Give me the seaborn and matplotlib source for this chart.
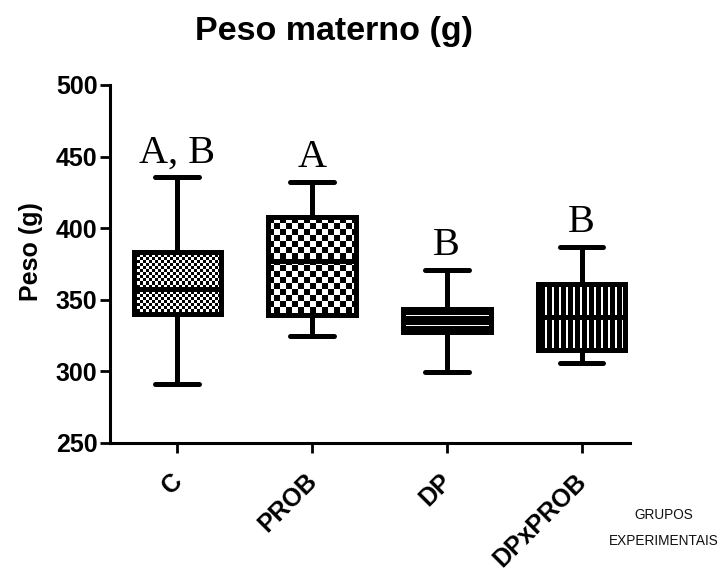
import numpy as np
import pandas as pd
import matplotlib
matplotlib.use("Agg")
import matplotlib.pyplot as plt
import matplotlib.transforms as mtransforms
import seaborn as sns

# Maternal weight per experimental group (five-number summaries, g)
groups = ["C", "PROB", "DP", "DPxPROB"]
peso_min = [291.0, 325.0, 299.5, 306.0]
peso_q1 = [340.0, 339.5, 327.3, 315.0]
peso_median = [357.3, 377.4, 335.3, 338.0]
peso_q3 = [383.6, 407.7, 343.4, 360.8]
peso_max = [435.5, 432.4, 371.0, 387.0]
letters = ["A, B", "A", "B", "B"]
yticks = [250, 300, 350, 400, 450, 500]

# With five values per group the quartiles fall exactly on q1/median/q3
rows = []
for g, a, b, c, d, e in zip(groups, peso_min, peso_q1, peso_median, peso_q3, peso_max):
    for v in (a, b, c, d, e):
        rows.append({"grupo": g, "peso": v})
df = pd.DataFrame(rows)

sns.set_theme(style="ticks")
plt.rcParams["font.family"] = ["Liberation Sans", "DejaVu Sans"]
plt.rcParams.update({
    "axes.linewidth": 2.2,
    "axes.edgecolor": "black",
    "axes.labelcolor": "black",
    "text.color": "black",
    "xtick.color": "black",
    "ytick.color": "black",
})

W, H = 726, 571
X0, X1, Y0, Y1 = 110, 630, 443, 85
fig = plt.figure(figsize=(W / 100, H / 100), dpi=100)
ax = fig.add_axes([X0 / W, 1 - Y0 / H, (X1 - X0) / W, (Y0 - Y1) / H])

lw = 3.6
sns.boxplot(
    data=df, x="grupo", y="peso", order=groups, ax=ax,
    whis=(0, 100), width=0.65, color="white", linecolor="black",
    linewidth=lw, showfliers=False,
)

XLIM = (-0.5, 3.36)
ax.set_xlim(*XLIM)
ax.set_ylim(250, 500)
ax.set_yticks(yticks)
sns.despine(ax=ax)


def texture(kind, nh, nw):
    i, j = np.mgrid[0:nh, 0:nw]
    if kind == "fine_checker":
        return ((i // 3 + j // 3) % 2).astype(float)
    if kind == "checker":
        return ((i // 6 + j // 6) % 2).astype(float)
    if kind == "hlines":
        return ((i % 9) == 7).astype(float)
    if kind == "vlines":
        return ((j % 7) < 2).astype(float)
    return np.ones((nh, nw))


kinds = ["fine_checker", "checker", "hlines", "vlines"]
boxes = list(ax.patches)[: len(groups)]
for patch, kind in zip(boxes, kinds):
    ext = patch.get_path().get_extents()
    (px0, py0), (px1, py1) = ax.transData.transform([[ext.x0, ext.y0], [ext.x1, ext.y1]])
    nw = max(int(round(abs(px1 - px0))), 1)
    nh = max(int(round(abs(py1 - py0))), 1)
    tex = texture(kind, nh, nw)
    im = ax.imshow(
        tex, extent=(ext.x0, ext.x1, ext.y0, ext.y1), origin="upper",
        aspect="auto", interpolation="nearest", cmap="gray", vmin=0, vmax=1,
        zorder=patch.get_zorder() - 0.05,
    )
    im.set_clip_path(patch)
    patch.set_facecolor("none")

ax.set_xlim(*XLIM)
ax.set_ylim(250, 500)

# Significance letters above each whisker
for k, (lab, top) in enumerate(zip(letters, peso_max)):
    ax.text(k, top + 10, lab, ha="center", va="baseline", color="black",
            fontsize=29, family=["Liberation Serif", "DejaVu Serif"])

ax.tick_params(axis="both", length=7, width=2, labelsize=18, pad=2, color="black")
ax.tick_params(axis="x", pad=6)
for t in ax.get_yticklabels():
    t.set_fontweight("bold")
ax.set_xticks(range(len(groups)))
ax.set_xticklabels(groups, rotation=45, ha="right", va="top",
                   rotation_mode="anchor", fontweight="bold", fontsize=18)
shift = mtransforms.ScaledTranslation(-7 / 100, -8 / 100, fig.dpi_scale_trans)
for t in ax.get_xticklabels():
    t.set_transform(t.get_transform() + shift)

ax.set_xlabel("")
ax.set_ylabel("Peso (g)", fontsize=18, fontweight="bold")
ax.yaxis.set_label_coords((43 - X0) / (X1 - X0), 0.534)

fig.text(334 / W, 1 - 40 / H, "Peso materno (g)", ha="center", va="baseline",
         fontsize=24.5, fontweight="bold")
fig.text(664 / W, 1 - 528 / H, "GRUPOS\nEXPERIMENTAIS", ha="center", va="center",
         fontsize=9.8, linespacing=2.15, color="#111111")

fig.savefig("out.png", dpi=100, facecolor="white")
